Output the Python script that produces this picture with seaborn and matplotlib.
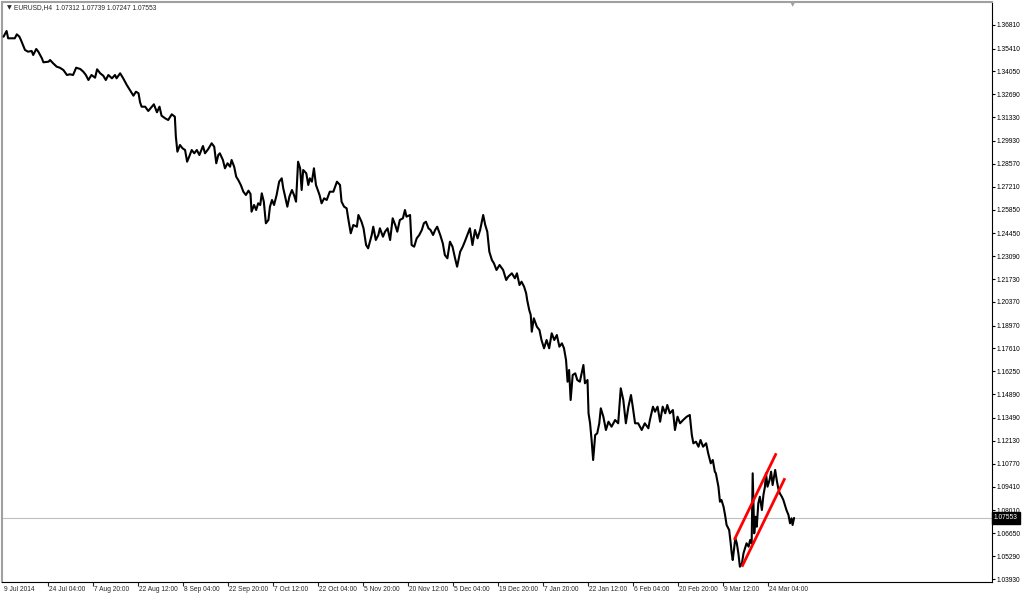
import matplotlib
matplotlib.use("Agg")
import matplotlib.pyplot as plt
import matplotlib.transforms as mtransforms
import seaborn as sns
import pandas as pd

# EURUSD H4 price path (bar index, price)
bar_idx = [1, 7, 10, 17, 23, 27, 32, 35, 39, 43, 49, 56, 59, 65, 69, 76, 79, 89, 92, 98,
           105, 111, 118, 125, 131, 137, 143, 151, 157, 162, 167, 173, 180, 184, 190, 196, 201, 206, 213, 219,
           222, 229, 235, 242, 248, 255, 260, 265, 268, 271, 278, 284, 291, 295, 301, 306, 310, 317, 323, 330,
           336, 338, 341, 346, 351, 356, 360, 364, 369, 374, 379, 384, 391, 395, 401, 408, 413, 417, 421, 424,
           430, 434, 439, 444, 447, 452, 456, 460, 465, 470, 475, 480, 484, 486, 491, 495, 499, 503, 506, 510,
           514, 519, 522, 526, 530, 535, 540, 545, 548, 551, 556, 560, 565, 569, 573, 577, 581, 584, 587, 593,
           597, 600, 604, 608, 612, 619, 623, 628, 633, 639, 646, 653, 659, 662, 667, 672, 675, 680, 685, 692,
           695, 701, 705, 710, 714, 721, 724, 729, 734, 737, 743, 747, 752, 757, 762, 767, 771, 776, 782, 786,
           789, 796, 799, 804, 809, 814, 819, 823, 827, 832, 836, 841, 845, 849, 855, 860, 864, 869, 874, 879,
           884, 888, 894, 899, 903, 908, 913, 918, 923, 928, 933, 939, 943, 947, 951, 956, 960, 965, 971, 978,
           984, 988, 995, 1001, 1005, 1010, 1014, 1019, 1023, 1025, 1029, 1032, 1034, 1038, 1044, 1049, 1053, 1058, 1063, 1068,
           1073, 1078, 1083, 1088, 1093, 1097, 1101, 1104, 1107, 1110, 1114, 1119, 1123, 1128, 1135, 1138, 1143, 1145, 1148, 1151,
           1154, 1158, 1162, 1166, 1169, 1174, 1179, 1184, 1190, 1197, 1203, 1208, 1213, 1218, 1223, 1228, 1231, 1236, 1242, 1249,
           1255, 1262, 1265, 1271, 1275, 1280, 1285, 1290, 1295, 1299, 1304, 1310, 1314, 1319, 1324, 1330, 1337, 1343, 1347, 1350,
           1355, 1360, 1364, 1369, 1375, 1379, 1384, 1388, 1392, 1394, 1399, 1402, 1405, 1409, 1412, 1415, 1420, 1423, 1425, 1427,
           1430, 1432, 1435, 1438, 1441, 1445, 1448, 1451, 1454, 1458, 1461, 1464, 1466, 1469, 1472, 1474, 1477, 1480, 1484, 1487,
           1490, 1492, 1495, 1499, 1502, 1505, 1510, 1513, 1516, 1519, 1523, 1526, 1529, 1532, 1536, 1539, 1542, 1544, 1547]

price = [1.36114, 1.36452, 1.36019, 1.36019, 1.36019, 1.36256, 1.36114, 1.35918, 1.35621, 1.35325,
         1.35224, 1.35265, 1.35028, 1.35384, 1.35224, 1.34832, 1.34595, 1.34630, 1.34731, 1.34535,
         1.34334, 1.34274, 1.34138, 1.33841, 1.33883, 1.33841, 1.34274, 1.34197, 1.34037, 1.33841,
         1.33544, 1.33841, 1.33681, 1.34179, 1.33942, 1.33799, 1.33544, 1.33841, 1.33645, 1.33841,
         1.33645, 1.33942, 1.33645, 1.33248, 1.32951, 1.32613, 1.32850, 1.32755, 1.32221, 1.31960,
         1.31960, 1.31704, 1.31960, 1.32102, 1.31627, 1.31960, 1.31426, 1.31271, 1.31170, 1.31509,
         1.31366, 1.30179, 1.29289, 1.29687, 1.29491, 1.29389, 1.28696, 1.28992, 1.29389, 1.29194,
         1.29389, 1.29093, 1.29627, 1.29194, 1.29432, 1.29788, 1.29586, 1.28601, 1.29093, 1.29194,
         1.28796, 1.28304, 1.28601, 1.28399, 1.28796, 1.28399, 1.27805, 1.27610, 1.27313, 1.26915,
         1.26719, 1.26975, 1.26779, 1.25728, 1.26126, 1.25829, 1.26227, 1.26126, 1.26820, 1.26322,
         1.25040, 1.25236, 1.26025, 1.26423, 1.26126, 1.26719, 1.27509, 1.27710, 1.27117, 1.26719,
         1.26025, 1.26619, 1.27016, 1.26719, 1.26322, 1.28696, 1.28304, 1.27016, 1.28203, 1.28007,
         1.27313, 1.27710, 1.27509, 1.28304, 1.27313, 1.26719, 1.26227, 1.26524, 1.26423, 1.26915,
         1.26915, 1.27509, 1.27313, 1.26322, 1.26025, 1.25930, 1.25337, 1.24446, 1.24939, 1.24838,
         1.25532, 1.25135, 1.24743, 1.23752, 1.23556, 1.24345, 1.24838, 1.24049, 1.24345, 1.24743,
         1.24244, 1.24541, 1.24743, 1.24049, 1.25337, 1.24939, 1.24541, 1.25236, 1.25337, 1.25829,
         1.25432, 1.25532, 1.23752, 1.23651, 1.24149, 1.24345, 1.24642, 1.25040, 1.25135, 1.24743,
         1.24642, 1.24345, 1.24642, 1.24838, 1.24345, 1.23853, 1.23159, 1.22962, 1.23948, 1.23651,
         1.22962, 1.22464, 1.23354, 1.23651, 1.23948, 1.24345, 1.24743, 1.23752, 1.24642, 1.24149,
         1.24642, 1.25532, 1.24939, 1.24541, 1.23354, 1.22862, 1.22666, 1.22268, 1.22565, 1.22268,
         1.21675, 1.21871, 1.22072, 1.21776, 1.22072, 1.21378, 1.21574, 1.21277, 1.20886, 1.20488,
         1.19894, 1.19598, 1.18606, 1.19402, 1.18903, 1.18707, 1.18114, 1.17621, 1.18114, 1.17621,
         1.18512, 1.18114, 1.18411, 1.17717, 1.17918, 1.17621, 1.16927, 1.15639, 1.16334, 1.14553,
         1.16037, 1.16137, 1.15740, 1.15639, 1.16630, 1.15544, 1.15740, 1.13764, 1.13171, 1.12179,
         1.10992, 1.12476, 1.12577, 1.13171, 1.14061, 1.13562, 1.12773, 1.13266, 1.12968, 1.13366,
         1.13171, 1.15247, 1.14553, 1.13171, 1.14156, 1.14850, 1.14256, 1.13171, 1.13171, 1.12773,
         1.13171, 1.12874, 1.13366, 1.14156, 1.13859, 1.14156, 1.13266, 1.14156, 1.13764, 1.14256,
         1.13764, 1.13960, 1.12773, 1.13562, 1.13171, 1.13366, 1.13562, 1.13663, 1.12476, 1.11983,
         1.12079, 1.11781, 1.12179, 1.11781, 1.11983, 1.11390, 1.10797, 1.10992, 1.10298, 1.10203,
         1.09408, 1.08518, 1.08618, 1.08221, 1.07728, 1.07135, 1.06838, 1.06048, 1.05455, 1.05058,
         1.05848, 1.06346, 1.06048, 1.05455, 1.04660, 1.04862, 1.05455, 1.05752, 1.06048, 1.05848,
         1.06245, 1.06048, 1.10203, 1.06642, 1.07627, 1.07034, 1.08423, 1.08814, 1.08025, 1.08915,
         1.09408, 1.10203, 1.09408, 1.09805, 1.10298, 1.09509, 1.10399, 1.09805, 1.09312, 1.09016,
         1.08814, 1.08618, 1.08322, 1.08025, 1.07728, 1.07236, 1.07532, 1.07135, 1.07553]

# channel lines drawn on the chart (start/end bar, start/end price)
chan_bars = [[1430, 1512], [1445, 1529]]
chan_prices = [[1.0625, 1.1139], [1.0466, 1.0991]]

last_ohlc = ["1.07312", "1.07739", "1.07247", "1.07553"]
last_close = 1.07553

y_ticks = [1.03930, 1.05290, 1.06650, 1.08010, 1.09410, 1.10770, 1.12130, 1.13490, 1.14890,
           1.16250, 1.17610, 1.18970, 1.20370, 1.21730, 1.23090, 1.24450, 1.25850, 1.27210,
           1.28570, 1.29930, 1.31330, 1.32690, 1.34050, 1.35410, 1.36810]
x_labels = ["9 Jul 2014", "24 Jul 04:00", "7 Aug 20:00", "22 Aug 12:00", "8 Sep 04:00",
            "22 Sep 20:00", "7 Oct 12:00", "22 Oct 04:00", "5 Nov 20:00", "20 Nov 12:00",
            "5 Dec 04:00", "19 Dec 20:00", "7 Jan 20:00", "22 Jan 12:00", "6 Feb 04:00",
            "20 Feb 20:00", "9 Mar 12:00", "24 Mar 04:00"]
x_label_bars = [88 * i for i in range(len(x_labels))]

df = pd.DataFrame({"bar": bar_idx, "price": price})

sns.set_style("white")
plt.rcParams["font.family"] = ["Liberation Sans", "DejaVu Sans"]
FS = 4.8

fig = plt.figure(figsize=(10.24, 5.97), dpi=100)
ax = fig.add_axes([2 / 1024, 15 / 597, 990 / 1024, 580 / 597])

# current price line
ax.axhline(last_close, color="#c0c0c0", lw=0.8, zorder=1)

sns.lineplot(data=df, x="bar", y="price", color="black", lw=1.5,
             estimator=None, sort=False, ax=ax, zorder=3)

for xs, ys in zip(chan_bars, chan_prices):
    ax.plot(xs, ys, color="#ff0000", lw=2.0, solid_capstyle="butt", zorder=4)

ax.set_xlim(-2, 1934)
ax.set_ylim(1.03752, 1.38173)
ax.set_xlabel("")
ax.set_ylabel("")

ax.yaxis.tick_right()
ax.set_yticks(y_ticks)
ax.set_yticklabels([f"{v:.5f}" for v in y_ticks])
ax.tick_params(axis="y", direction="out", length=2.5, width=0.8, pad=1,
               labelsize=FS, colors="black", right=True, left=False)

ax.set_xticks(x_label_bars[1:])
ax.set_xticklabels([])
ax.tick_params(axis="x", direction="out", length=3, width=0.8, bottom=True)
trans = mtransforms.blended_transform_factory(ax.transData, ax.transAxes)
for b, lab in zip(x_label_bars, x_labels):
    ax.text(b + 2, -0.0075, lab, transform=trans, ha="left", va="top", fontsize=FS)

for side in ["left", "top"]:
    ax.spines[side].set_color("#a0a0a0")
    ax.spines[side].set_linewidth(1.5)
for side in ["right", "bottom"]:
    ax.spines[side].set_color("black")
    ax.spines[side].set_linewidth(0.8)

# last price tag on the price scale
tag = mtransforms.blended_transform_factory(ax.transAxes, ax.transData)
ax.text(1.002, last_close, f"{last_close:.5f}", transform=tag, ha="left", va="center",
        fontsize=FS, color="white",
        bbox=dict(boxstyle="square,pad=0.35", fc="black", ec="black"))

# header
fig.text(7 / 1024, 1 - 8 / 597, "\u25bc", fontsize=4.5, va="center", ha="left",
         family="DejaVu Sans")
fig.text(14 / 1024, 1 - 8 / 597, "EURUSD,H4  " + " ".join(last_ohlc),
         fontsize=FS, va="center", ha="left")
# chart shift marker
fig.text(793 / 1024, 1 - 4 / 597, "\u25bc", fontsize=5, color="#a0a0a0", va="center",
         ha="center", family="DejaVu Sans")

fig.savefig("out.png", dpi=100)
